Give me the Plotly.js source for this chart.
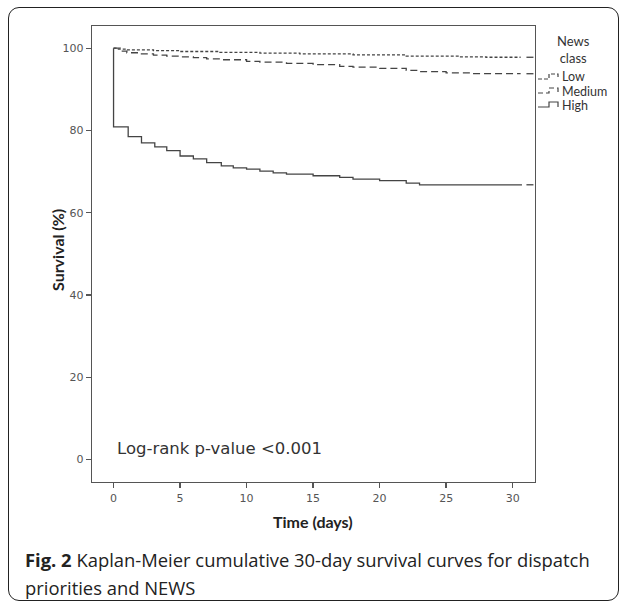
<!DOCTYPE html>
<html>
<head>
<meta charset="utf-8">
<script src="https://cdn.plot.ly/plotly-3.0.1.min.js"></script>
<style>
  html, body { margin: 0; padding: 0; background: #fff; }
  #wrap { position: relative; width: 627px; height: 603px; }
  #chart { width: 627px; height: 603px; }
  #frame { position: absolute; left: 8px; top: 7px; width: 611px; height: 594px;
           border: 1.5px solid #222; border-radius: 11px; pointer-events: none; box-sizing: border-box; }
</style>
</head>
<body>
<div id="wrap"><div id="chart"></div><div id="frame"></div></div>
<script>
// ---- Data ----
const seriesNames = ["Low", "Medium", "High"];

const lowDays   = [0, 0.3, 1, 3, 5, 8, 11, 14, 18, 22, 26, 28, 30.6];
const lowSurv   = [100, 99.8, 99.6, 99.4, 99.2, 99.0, 98.8, 98.6, 98.4, 98.1, 97.9, 97.8, 97.8];

const medDays   = [0, 0.5, 1, 2, 3, 4, 5, 6, 7, 8, 10, 11, 13, 15, 17, 18, 20, 22, 23, 25, 27, 30.6];
const medSurv   = [100, 99.3, 98.9, 98.6, 98.3, 98.1, 97.9, 97.7, 97.4, 97.2, 96.8, 96.6, 96.3, 96.0, 95.6, 95.4, 95.1, 94.6, 94.3, 94.0, 93.8, 93.8];

const highDays  = [0, 0, 1.1, 2.1, 3.1, 4, 5, 6, 7, 8.1, 9, 10, 11, 12, 13, 15, 17, 18, 20, 22, 23, 30.7];
const highSurv  = [100, 80.9, 78.5, 77.0, 76.0, 75.1, 73.8, 73.1, 72.2, 71.4, 70.9, 70.6, 70.1, 69.7, 69.4, 69.0, 68.6, 68.2, 67.8, 67.2, 66.8, 66.8];

const censorDay = 31.3;

const xTickVals = [0, 5, 10, 15, 20, 25, 30];
const yTickVals = [0, 20, 40, 60, 80, 100];

const xTitle = "Time (days)";
const yTitle = "Survival (%)";
const pValueText = "Log-rank p-value <0.001";
const legendTitle = "News<br>class";
const captionLine1 = "<b>Fig. 2</b> Kaplan-Meier cumulative 30-day survival curves for dispatch";
const captionLine2 = "priorities and NEWS";

// ---- Layout geometry (pixels) ----
const W = 627, H = 603;
const L = 92, R = 535, T = 26, B = 482;
const PW = R - L, PH = B - T;
const px = x => (x - L) / PW;
const py = y => (B - y) / PH;

const lineColor = "#444";
const dashes = ["3px,2px", "7px,4px", "solid"];
const allDays = [lowDays, medDays, highDays];
const allSurv = [lowSurv, medSurv, highSurv];

const traces = seriesNames.map((n, i) => ({
  x: allDays[i], y: allSurv[i], name: n, type: "scatter", mode: "lines",
  line: { shape: "hv", color: lineColor, width: 1.3, dash: dashes[i] },
  showlegend: false, hoverinfo: "skip"
}));

traces.push({
  x: seriesNames.map(() => censorDay),
  y: allSurv.map(s => s[s.length - 1]),
  type: "scatter", mode: "markers", showlegend: false, hoverinfo: "skip",
  marker: { symbol: "line-ew", size: 5, line: { color: lineColor, width: 1.3 } }
});

const tickFont = { family: "DejaVu Sans", size: 11, color: "#555" };
const narrowFont = "Lato, 'Open Sans', sans-serif";
const captionFont = "'Open Sans', sans-serif";

function ann(text, x, y, xa, font, extra) {
  return Object.assign({ text: text, x: px(x), y: py(y), xref: "paper", yref: "paper",
    xanchor: xa, yanchor: "middle", showarrow: false, borderpad: 0, font: font }, extra || {});
}

const annotations = [
  ann("<b>" + yTitle + "</b>", 57, 250, "center", { family: narrowFont, size: 16, color: "#222" }, { textangle: -90 }),
  ann("<b>" + xTitle + "</b>", 313, 521, "center", { family: narrowFont, size: 16, color: "#222" }),
  ann(pValueText, 116, 448, "left", { family: "DejaVu Sans", size: 16.5, color: "#333" }),
  ann(legendTitle, 573, 49, "center", { family: narrowFont, size: 13, color: "#333" }),
  ann(captionLine1, 24, 559, "left", { family: captionFont, size: 18.4, color: "#222" }),
  ann(captionLine2, 24, 587, "left", { family: captionFont, size: 18.4, color: "#222" })
];

const legendY = [77, 91, 105];
const shapes = [];
seriesNames.forEach((n, i) => {
  annotations.push(ann(n, 561, legendY[i], "left", { family: narrowFont, size: 12.5, color: "#333" }));
  const yb = legendY[i] + 2, yt = legendY[i] - 3;
  const p = (x, y) => px(x) + "," + py(y);
  shapes.push({ type: "path", xref: "paper", yref: "paper",
    path: "M" + p(538, yb) + " L" + p(549, yb) + " L" + p(549, yt) + " L" + p(558, yt) + " L" + p(558, yb),
    line: { color: lineColor, width: 1.2, dash: i === 2 ? "solid" : (i === 0 ? "4px,2px" : "5px,3px") } });
});

const axisBase = {
  showgrid: false, zeroline: false, showline: true, mirror: true,
  linecolor: "#555", linewidth: 1.3, ticks: "outside", ticklen: 5, tickwidth: 1.3,
  tickcolor: "#555", tickfont: tickFont, fixedrange: true
};

const layout = {
  width: W, height: H,
  margin: { l: L, r: W - R, t: T, b: H - B, pad: 0 },
  paper_bgcolor: "#fff", plot_bgcolor: "#fff",
  showlegend: false,
  xaxis: Object.assign({}, axisBase, { range: [-1.62, 31.68], tickvals: xTickVals, ticktext: xTickVals.map(String) }),
  yaxis: Object.assign({}, axisBase, { range: [-5.45, 105.4], tickvals: yTickVals, ticktext: yTickVals.map(String) }),
  annotations: annotations,
  shapes: shapes
};

Plotly.newPlot("chart", traces, layout, { displayModeBar: false, staticPlot: true });
</script>
</body>
</html>
